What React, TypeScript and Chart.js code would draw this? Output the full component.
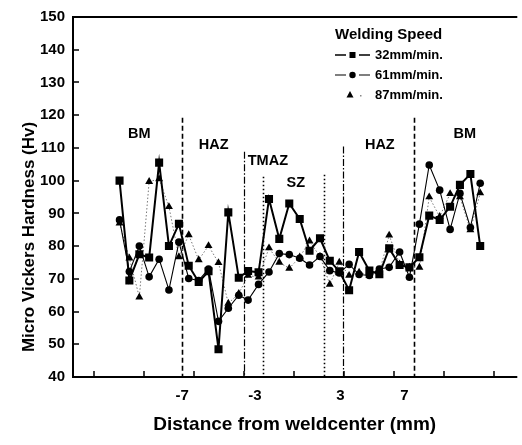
import React, { useEffect, useRef } from 'react';
import { Chart, registerables } from 'chart.js';

Chart.register(...registerables);

// Distance from weld center (mm) of each measurement point
const xPositions = [
  -11.0, -10.38, -9.75, -9.13, -8.5, -7.88, -7.25, -6.63, -6.0, -5.38, -4.75, -4.13, -3.47,
  -2.88, -2.22, -1.56, -0.91, -0.28, 0.38, 1.0, 1.66, 2.28, 2.88, 3.5, 4.13, 4.78, 5.41,
  6.03, 6.69, 7.31, 7.94, 8.56, 9.22, 9.88, 10.5, 11.16, 11.78,
];

// Micro Vickers hardness (Hv)
const speed32 = [
  100, 69.5, 77.5, 76.5, 105.5, 80, 86.8, 74, 69, 72.3, 48.5, 90.3, 70.3, 72.4, 72, 94.4, 82.2,
  93, 88.3, 78.6, 82.4, 75.5, 72.3, 66.5, 78.2, 72.5, 71.4, 79.3, 74.2, 73.5, 76.6, 89.3, 88,
  92, 98.7, 102, 80,
];
const speed61 = [
  88, 72.2, 80, 70.6, 76, 66.6, 81.2, 70.1, 69.5, 73, 57, 61, 65, 63.5, 68.3, 72.1, 77.7, 77.4,
  76.3, 74.2, 76.8, 72.5, 71.8, 74.4, 71.3, 71, 73, 73.5, 78.2, 70.5, 86.7, 104.8, 97.1, 85.1,
  96.1, 85.7, 99.2,
];
const speed87 = [
  87, 76.3, 64.4, 99.7, 100.5, 92, 76.7, 83.4, 75.8, 80.1, 74.9, 62.5, 65.5, 71, 70.5, 79.4, 75,
  73.2, 76.6, 81.5, 76.8, 68.3, 75, 71, 72, 71, 72, 83.3, 74.5, 73.5, 73.5, 95, 89, 96, 95, 84.9,
  96.2,
];

const seriesLabels = ['32mm/min.', '61mm/min.', '87mm/min.'];
const legendTitle = 'Welding Speed';
const xTitle = 'Distance from weldcenter (mm)';
const yTitle = 'Micro Vickers Hardness (Hv)';

const yMin = 40;
const yMax = 150;
const xMin = -13.94;
const xMax = 14.06;

const xTickMarks = [-12.63, -9.47, -6.32, -3.16, 0, 3.16, 6.32, 9.47, 12.63];
const xTickLabels = ['-7', '-3', '3', '7'];
const xTickLabelValues = [-7.05, -2.45, 2.95, 7.0];

// zone boundaries (mm) and the hardness value where each line starts
const zoneBoundaries = [-7.06, -3.13, -1.94, 1.94, 3.13, 7.6];
const zoneBoundaryTops = [119.2, 108.8, 101.2, 101.8, 110.4, 119.2];
const zoneBoundaryKinds = ['dashed', 'dashdot', 'dotted', 'dotted', 'dashdot', 'dashed'];

const zoneLabels = ['BM', 'HAZ', 'TMAZ', 'SZ', 'HAZ', 'BM'];
const zoneLabelX = [-9.75, -5.06, -1.63, 0.13, 5.44, 10.8];
const zoneLabelY = [114.3, 110.9, 106.0, 99.3, 110.9, 114.3];

const FONT = '"Liberation Sans", Arial, Helvetica, sans-serif';

const dashFor: Record<string, number[]> = {
  dashed: [5, 3],
  dashdot: [7, 2, 1.5, 2],
  dotted: [1.5, 2.5],
};
const widthFor: Record<string, number> = { dashed: 1.6, dashdot: 1.2, dotted: 1.6 };

const decorPlugin = {
  id: 'decor',
  beforeDatasetsDraw(chart: any) {
    const { ctx, chartArea, scales } = chart;
    const x = scales.x;
    const y = scales.y;
    ctx.save();
    ctx.strokeStyle = '#000';
    zoneBoundaries.forEach((v, i) => {
      const kind = zoneBoundaryKinds[i];
      const px = Math.round(x.getPixelForValue(v)) + 0.5;
      ctx.lineWidth = widthFor[kind];
      ctx.setLineDash(dashFor[kind]);
      ctx.beginPath();
      ctx.moveTo(px, y.getPixelForValue(zoneBoundaryTops[i]));
      ctx.lineTo(px, chartArea.bottom);
      ctx.stroke();
    });
    ctx.setLineDash([]);
    ctx.fillStyle = '#000';
    ctx.font = `bold 14.5px ${FONT}`;
    ctx.textAlign = 'center';
    ctx.textBaseline = 'middle';
    zoneLabels.forEach((t, i) => {
      ctx.fillText(t, x.getPixelForValue(zoneLabelX[i]), y.getPixelForValue(zoneLabelY[i]));
    });
    ctx.restore();
  },
  afterDraw(chart: any) {
    const { ctx, chartArea, scales } = chart;
    const x = scales.x;
    const y = scales.y;
    const { left, right, top, bottom } = chartArea;
    ctx.save();
    ctx.strokeStyle = '#000';
    ctx.fillStyle = '#000';
    ctx.setLineDash([]);
    // frame
    ctx.lineWidth = 2;
    ctx.beginPath();
    ctx.moveTo(right + 1, top);
    ctx.lineTo(left, top);
    ctx.lineTo(left, bottom);
    ctx.lineTo(right + 1, bottom);
    ctx.stroke();
    // inward tick marks
    ctx.lineWidth = 1.5;
    for (let v = yMin; v <= yMax; v += 10) {
      const py = Math.round(y.getPixelForValue(v));
      ctx.beginPath();
      ctx.moveTo(left, py);
      ctx.lineTo(left + 6, py);
      ctx.stroke();
    }
    xTickMarks.forEach((v) => {
      const px = Math.round(x.getPixelForValue(v));
      ctx.beginPath();
      ctx.moveTo(px, bottom);
      ctx.lineTo(px, bottom - 6);
      ctx.stroke();
    });
    // y title
    ctx.save();
    ctx.translate(29, 237);
    ctx.rotate(-Math.PI / 2);
    ctx.font = `bold 17px ${FONT}`;
    ctx.textAlign = 'center';
    ctx.textBaseline = 'middle';
    ctx.fillText(yTitle, 0, 0);
    ctx.restore();
    // legend
    ctx.textAlign = 'left';
    ctx.textBaseline = 'middle';
    ctx.font = `bold 15px ${FONT}`;
    ctx.fillText(legendTitle, 335, 35);
    ctx.font = `bold 13px ${FONT}`;
    const rowsY = [55, 75, 95];
    seriesLabels.forEach((t, i) => {
      const ry = rowsY[i];
      ctx.fillText(t, 375, ry);
      if (i < 2) {
        ctx.lineWidth = i === 0 ? 1.6 : 1.2;
        ctx.beginPath();
        ctx.moveTo(335, ry);
        ctx.lineTo(346, ry);
        ctx.moveTo(359, ry);
        ctx.lineTo(370, ry);
        ctx.stroke();
      }
      if (i === 0) {
        ctx.fillRect(349.5, ry - 3, 6, 6);
      } else if (i === 1) {
        ctx.beginPath();
        ctx.arc(352.5, ry, 3.2, 0, Math.PI * 2);
        ctx.fill();
      } else {
        ctx.beginPath();
        ctx.moveTo(350, ry - 4);
        ctx.lineTo(353.5, ry + 2.5);
        ctx.lineTo(346.5, ry + 2.5);
        ctx.closePath();
        ctx.fill();
        ctx.fillStyle = '#888';
        ctx.fillRect(360, ry, 1.5, 1.5);
        ctx.fillStyle = '#000';
      }
    });
    ctx.restore();
  },
};

function toPoints(values: number[]) {
  return values.map((v, i) => ({ x: xPositions[i], y: v }));
}

export default function App() {
  const canvasRef = useRef<HTMLCanvasElement | null>(null);

  useEffect(() => {
    if (!canvasRef.current) return;
    const chart = new Chart(canvasRef.current, {
      type: 'line',
      data: {
        datasets: [
          {
            label: seriesLabels[0],
            data: toPoints(speed32),
            borderColor: '#000',
            backgroundColor: '#000',
            borderWidth: 2,
            pointStyle: 'rect',
            pointRadius: 5.7,
            pointBorderWidth: 0,
            tension: 0,
          },
          {
            label: seriesLabels[1],
            data: toPoints(speed61),
            borderColor: '#000',
            backgroundColor: '#000',
            borderWidth: 1.1,
            pointStyle: 'circle',
            pointRadius: 3.8,
            pointBorderWidth: 0,
            tension: 0,
          },
          {
            label: seriesLabels[2],
            data: toPoints(speed87),
            borderColor: '#777',
            backgroundColor: '#000',
            pointBorderColor: '#000',
            borderWidth: 1,
            borderDash: [1.5, 2],
            pointStyle: 'triangle',
            pointRadius: 4.6,
            pointBorderWidth: 0,
            tension: 0,
          },
        ],
      },
      options: {
        animation: false,
        responsive: true,
        maintainAspectRatio: false,
        layout: { padding: { top: 17, right: 1, left: 0, bottom: 0 } },
        plugins: {
          legend: { display: false },
          tooltip: { enabled: false },
        },
        scales: {
          x: {
            type: 'linear',
            min: xMin,
            max: xMax,
            grid: { display: false, drawTicks: false },
            border: { display: false },
            afterBuildTicks: (scale: any) => {
              scale.ticks = xTickLabelValues.map((v) => ({ value: v }));
            },
            afterFit: (scale: any) => {
              scale.height = 68;
            },
            ticks: {
              autoSkip: false,
              maxRotation: 0,
              padding: 10,
              color: '#000',
              font: { family: FONT, size: 15, weight: 'bold' },
              callback: (_v: any, i: number) => xTickLabels[i],
            },
            title: {
              display: true,
              text: xTitle,
              color: '#000',
              font: { family: FONT, size: 19, weight: 'bold' },
              padding: { top: 0, bottom: 9 },
            },
          },
          y: {
            min: yMin,
            max: yMax,
            grid: { display: false, drawTicks: false },
            border: { display: false },
            afterFit: (scale: any) => {
              scale.width = 73;
            },
            ticks: {
              stepSize: 10,
              padding: 8,
              color: '#000',
              font: { family: FONT, size: 15, weight: 'bold' },
            },
          },
        },
      },
      plugins: [decorPlugin],
    });
    return () => chart.destroy();
  }, []);

  return (
    <div style={{ position: 'absolute', left: 0, top: 0, width: 522, height: 445, background: '#fff' }}>
      <canvas ref={canvasRef} />
    </div>
  );
}
